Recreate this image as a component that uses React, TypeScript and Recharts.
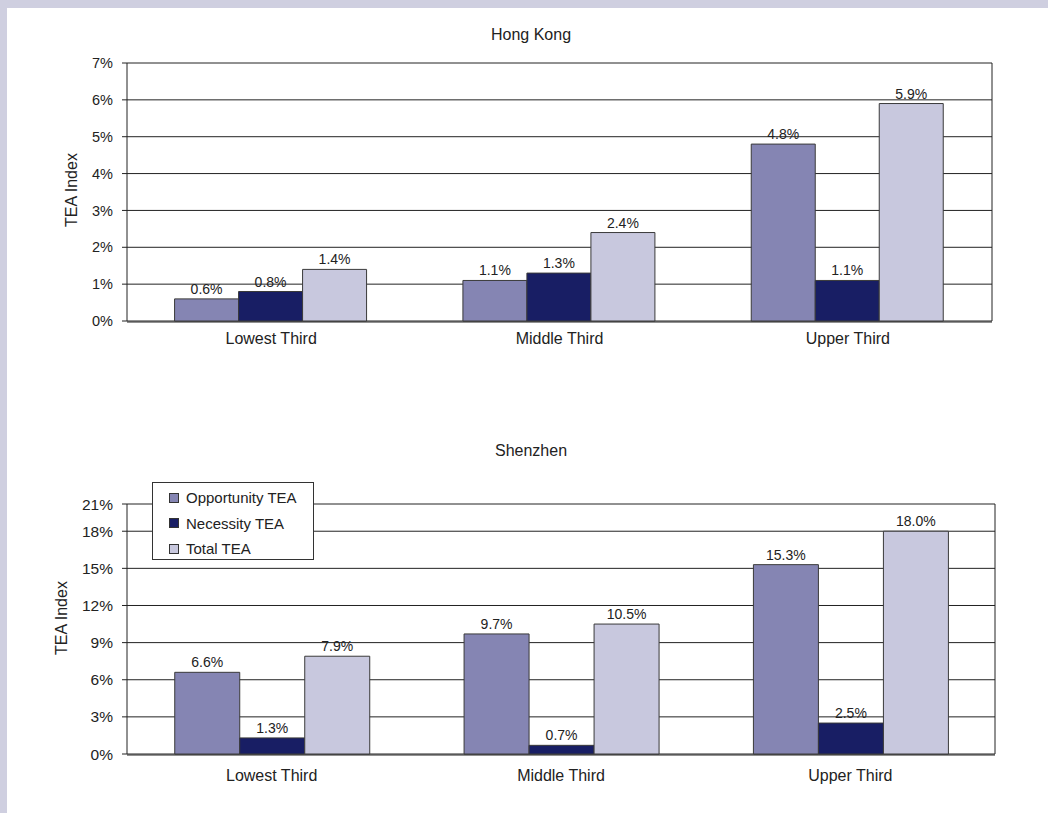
import React from 'react';
import { BarChart, Bar, XAxis, YAxis, CartesianGrid, LabelList } from 'recharts';

// Income-group categories shared by both panels
const categories = ['Lowest Third', 'Middle Third', 'Upper Third'];
const seriesNames = ['Opportunity TEA', 'Necessity TEA', 'Total TEA'];

// Hong Kong TEA rates (%)
const hkOpportunity = [0.6, 1.1, 4.8];
const hkNecessity = [0.8, 1.3, 1.1];
const hkTotal = [1.4, 2.4, 5.9];

// Shenzhen TEA rates (%)
const szOpportunity = [6.6, 9.7, 15.3];
const szNecessity = [1.3, 0.7, 2.5];
const szTotal = [7.9, 10.5, 18.0];

// Value-axis ticks and their printed labels
const hkTicks = [0, 1, 2, 3, 4, 5, 6, 7];
const hkTickLabels = ['0%', '1%', '2%', '3%', '4%', '5%', '6%', '7%'];
const szTicks = [0, 3, 6, 9, 12, 15, 18, 20.2];
const szTickLabels = ['0%', '3%', '6%', '9%', '12%', '15%', '18%', '21%'];

// Category boundaries for the small ticks under the x axis
const edgeTicks = [0, 1, 2, 3];

const COLORS = ['#8585b3', '#181e64', '#c8c8de'];
const KEYS = ['opp', 'nec', 'tot'];
const FONT = '"Liberation Sans", Arial, Helvetica, sans-serif';
const INK = '#222';
const BAR_EDGE = '#3a3a3a';

const buildRows = (opp: number[], nec: number[], tot: number[]) =>
  categories.map((name, i) => ({ name, opp: opp[i], nec: nec[i], tot: tot[i] }));

const pct = (v: any) => `${Number(v).toFixed(1)}%`;

type PanelProps = {
  title: string;
  rows: any[];
  ticks: number[];
  tickLabels: string[];
  top: number;
  height: number;
  margin: { top: number; right: number; bottom: number; left: number };
  titleY: number;
  yLabelX: number;
  yLabelY: number;
  tickFont: number;
  catMargin: number;
  legend?: boolean;
};

const Legend = () => (
  <div
    style={{
      position: 'absolute',
      left: 152,
      top: 82,
      width: 162,
      height: 78,
      boxSizing: 'border-box',
      border: '1px solid #333',
      background: '#fff',
      paddingTop: 2,
      fontFamily: FONT,
      fontSize: 15,
      color: INK,
    }}
  >
    {seriesNames.map((n, i) => (
      <div key={n} style={{ height: 25.5, display: 'flex', alignItems: 'center' }}>
        <span
          style={{
            display: 'inline-block',
            width: 8,
            height: 8,
            marginLeft: 16,
            marginRight: 7,
            background: COLORS[i],
            border: '1px solid #333',
          }}
        />
        <span style={{ whiteSpace: 'nowrap' }}>{n}</span>
      </div>
    ))}
  </div>
);

const Panel = (p: PanelProps) => {
  const max = p.ticks[p.ticks.length - 1];
  return (
    <div style={{ position: 'absolute', left: 0, top: p.top, width: 1048, height: p.height }}>
      <BarChart
        width={1048}
        height={p.height}
        data={p.rows}
        margin={p.margin}
        barCategoryGap="16.5%"
        barGap={0}
      >
        <CartesianGrid vertical={false} stroke={INK} strokeWidth={1} />
        <XAxis
          xAxisId="edge"
          type="number"
          domain={[0, 3]}
          ticks={edgeTicks}
          allowDataOverflow
          tick={false}
          stroke={INK}
          axisLine={{ stroke: INK }}
          tickLine={{ stroke: INK }}
          tickSize={5}
          height={1}
        />
        <XAxis
          dataKey="name"
          tickLine={false}
          axisLine={false}
          tickSize={0}
          tickMargin={p.catMargin}
          interval={0}
          height={1}
          tick={{ fill: INK, fontSize: 16, fontFamily: FONT }}
        />
        <YAxis
          type="number"
          domain={[0, max]}
          ticks={p.ticks}
          interval={0}
          width={127}
          tickSize={5}
          tickMargin={9}
          stroke={INK}
          axisLine={{ stroke: INK }}
          tickLine={{ stroke: INK }}
          tickFormatter={(v: number) => p.tickLabels[p.ticks.indexOf(v)] ?? ''}
          tick={{ fill: INK, fontSize: p.tickFont, fontFamily: FONT }}
        />
        <YAxis
          yAxisId="r"
          orientation="right"
          width={1}
          domain={[0, 1]}
          tick={false}
          tickLine={false}
          stroke={INK}
          axisLine={{ stroke: INK }}
        />
        {KEYS.map((k, i) => (
          <Bar
            key={k}
            dataKey={k}
            name={seriesNames[i]}
            fill={COLORS[i]}
            stroke={BAR_EDGE}
            strokeWidth={1}
            isAnimationActive={false}
          >
            <LabelList
              dataKey={k}
              position="top"
              offset={5}
              formatter={pct}
              fill={INK}
              fontSize={14}
              fontFamily={FONT}
            />
          </Bar>
        ))}
      </BarChart>
      <div
        style={{
          position: 'absolute',
          left: 0,
          width: 1062,
          top: p.titleY - 10,
          height: 20,
          lineHeight: '20px',
          textAlign: 'center',
          fontFamily: FONT,
          fontSize: 16,
          color: INK,
        }}
      >
        {p.title}
      </div>
      <div
        style={{
          position: 'absolute',
          left: p.yLabelX - 60,
          top: p.yLabelY - 10,
          width: 120,
          height: 20,
          lineHeight: '20px',
          textAlign: 'center',
          transform: 'rotate(-90deg)',
          fontFamily: FONT,
          fontSize: 16,
          color: INK,
        }}
      >
        TEA Index
      </div>
      {p.legend ? <Legend /> : null}
    </div>
  );
};

export default function App() {
  const hkRows = buildRows(hkOpportunity, hkNecessity, hkTotal);
  const szRows = buildRows(szOpportunity, szNecessity, szTotal);
  return (
    <div
      style={{
        position: 'absolute',
        left: 0,
        top: 0,
        width: 1048,
        height: 813,
        background: '#cfcfe0',
        overflow: 'hidden',
      }}
    >
      <div style={{ position: 'absolute', left: 7, top: 8, right: 0, bottom: 0, background: '#fff' }} />
      <Panel
        title="Hong Kong"
        rows={hkRows}
        ticks={hkTicks}
        tickLabels={hkTickLabels}
        top={0}
        height={400}
        margin={{ top: 63, right: 55, bottom: 77, left: 0 }}
        titleY={35}
        yLabelX={72}
        yLabelY={190}
        tickFont={14.5}
        catMargin={12}
      />
      <Panel
        title="Shenzhen"
        rows={szRows}
        ticks={szTicks}
        tickLabels={szTickLabels}
        top={400}
        height={413}
        margin={{ top: 104, right: 52, bottom: 57, left: 0 }}
        titleY={51}
        yLabelX={62}
        yLabelY={218}
        tickFont={15.5}
        catMargin={16}
        legend
      />
    </div>
  );
}
